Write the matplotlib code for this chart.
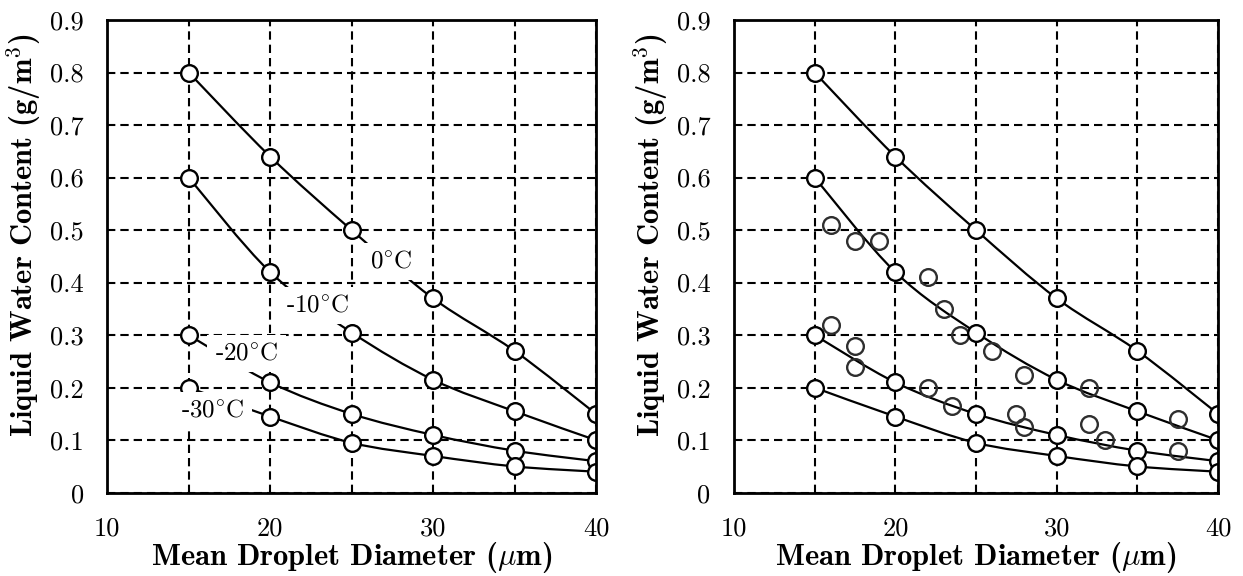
import numpy as np
import matplotlib
matplotlib.use("Agg")
import matplotlib.pyplot as plt
from matplotlib.path import Path
from matplotlib.patches import PathPatch

plt.rcParams["mathtext.fontset"] = "cm"
plt.rcParams["axes.formatter.use_mathtext"] = True

# model curves: LWC vs mean droplet diameter for each temperature
diameters = [15, 20, 25, 30, 35, 40]
lwc_0c = [0.80, 0.64, 0.50, 0.37, 0.27, 0.15]
lwc_m10c = [0.60, 0.42, 0.305, 0.215, 0.155, 0.10]
lwc_m20c = [0.30, 0.21, 0.15, 0.11, 0.08, 0.06]
lwc_m30c = [0.20, 0.145, 0.095, 0.07, 0.05, 0.04]
curve_labels = [r"0$^{\circ}$C", r"-10$^{\circ}$C", r"-20$^{\circ}$C",
                r"-30$^{\circ}$C"]

# measured points (right panel)
meas_d = [16, 17.5, 19, 22, 23, 24, 26, 28, 32, 37.5,
          16, 17.5, 17.5, 22, 23.5, 27.5, 28, 32, 33, 37.5]
meas_lwc = [0.51, 0.48, 0.48, 0.41, 0.35, 0.30, 0.27, 0.225, 0.20, 0.14,
            0.32, 0.28, 0.24, 0.20, 0.165, 0.15, 0.125, 0.13, 0.10, 0.08]

x_ticks = [10, 20, 30, 40]
y_ticks = [0, 0.1, 0.2, 0.3, 0.4, 0.5, 0.6, 0.7, 0.8, 0.9]
y_ticklabels = ["0", "0.1", "0.2", "0.3", "0.4", "0.5", "0.6", "0.7", "0.8", "0.9"]

# where the temperature labels sit in the left panel
label_pos = [(27.45, 0.44), (22.9, 0.356), (18.55, 0.265), (16.5, 0.156)]

RM = ["cmr10", "DejaVu Serif"]
BF = ["cmb10", "DejaVu Serif"]
TICK_FS = 19
LABEL_FS = 22


def smooth_path(x, y):
    # Catmull-Rom style cubic bezier through the points
    pts = np.column_stack([x, y]).astype(float)
    verts = [pts[0]]
    codes = [Path.MOVETO]
    n = len(pts)
    for i in range(n - 1):
        p0 = pts[i - 1] if i > 0 else pts[i]
        p1 = pts[i]
        p2 = pts[i + 1]
        p3 = pts[i + 2] if i + 2 < n else p2
        verts += [p1 + (p2 - p0) / 6, p2 - (p3 - p1) / 6, p2]
        codes += [Path.CURVE4] * 3
    return Path(verts, codes)


def setup_axes(ax):
    ax.set_xlim(10, 40)
    ax.set_ylim(0, 0.9)
    ax.set_xticks(x_ticks)
    ax.set_xticklabels([str(t) for t in x_ticks], fontfamily=RM,
                       fontsize=TICK_FS)
    ax.set_xticks([15, 25, 35], minor=True)
    ax.set_yticks(y_ticks)
    ax.set_yticklabels(y_ticklabels, fontfamily=RM, fontsize=TICK_FS)
    ax.tick_params(which="both", length=0, pad=17)
    ax.grid(True, which="both", color="black", linewidth=1.5,
            linestyle=(0, (4, 2.4)), zorder=1)
    ax.set_axisbelow(True)
    for sp in ax.spines.values():
        sp.set_linewidth(2)
        sp.set_zorder(6)
    ax.set_xlabel(r"Mean Droplet Diameter ($\mu$m)", fontfamily=BF,
                  fontsize=LABEL_FS, va="center")
    ax.set_ylabel(r"Liquid Water Content (g/m$^{\mathbf{3}}$)", fontfamily=BF,
                  fontsize=LABEL_FS, va="center")
    ax.xaxis.set_label_coords(0.5, -0.138)
    ax.yaxis.set_label_coords(-0.172, 0.545)


def draw_curves(ax):
    for lwc in [lwc_0c, lwc_m10c, lwc_m20c, lwc_m30c]:
        ax.add_patch(PathPatch(smooth_path(diameters, lwc), fill=False,
                               edgecolor="black", linewidth=1.6, zorder=3))
        ax.plot(diameters, lwc, linestyle="none", marker="o", markersize=12,
                markerfacecolor="white", markeredgecolor="black",
                markeredgewidth=1.7, zorder=4)


fig = plt.figure(figsize=(12.43, 5.76), dpi=100)
ax1 = fig.add_axes([0.0863, 0.1446, 0.3932, 0.8207])
ax2 = fig.add_axes([0.5905, 0.1446, 0.3894, 0.8207])

for ax in (ax1, ax2):
    setup_axes(ax)
    draw_curves(ax)

for txt, (lx, ly) in zip(curve_labels, label_pos):
    ax1.text(lx, ly, txt, fontfamily=RM, fontsize=18, ha="center",
             va="center", zorder=5,
             bbox=dict(boxstyle="square,pad=0.3", fc="white", ec="none"))

ax2.plot(meas_d, meas_lwc, linestyle="none", marker="o", markersize=12,
         markerfacecolor="none", markeredgecolor="#2e2e2e",
         markeredgewidth=1.7, zorder=3.5)

fig.savefig("out.png", dpi=100)
